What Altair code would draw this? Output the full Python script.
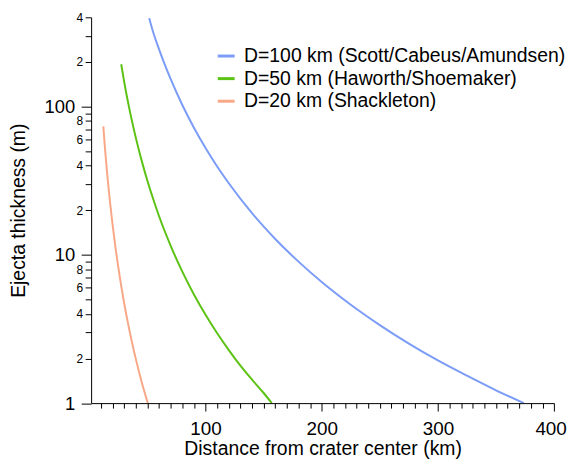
import altair as alt
import pandas as pd

series_names = [
    "D=100 km (Scott/Cabeus/Amundsen)",
    "D=50 km (Haworth/Shoemaker)",
    "D=20 km (Shackleton)",
]
colors = ["#7b9cf7", "#5cc214", "#f9a887"]

d100_x = [51.5, 55, 60, 65, 70, 80, 90, 100, 110, 120, 140, 160, 180, 200, 225, 250, 275, 300, 325, 350, 374]
d100_t = [395, 316, 243, 191, 153, 102.5, 72, 52.5, 39.4, 30.4, 19.1, 12.8, 9.0, 6.56, 4.61, 3.36, 2.52, 1.94, 1.53, 1.22, 1.0]

d50_x = [27.4, 30, 32.5, 35, 40, 45, 50, 55, 60, 70, 80, 90, 100, 110, 120, 130, 140, 150, 157]
d50_t = [193, 146, 114.7, 91.8, 61.5, 43.2, 31.5, 23.7, 18.2, 11.5, 7.7, 5.4, 3.94, 2.96, 2.28, 1.79, 1.44, 1.17, 1.0]

d20_x = [12, 13, 14, 15, 16, 18, 20, 22.5, 25, 27.5, 30, 33, 36, 40, 45, 50.3]
d20_t = [73.5, 57.8, 46.3, 37.6, 31.0, 21.8, 15.9, 11.15, 8.13, 6.11, 4.70, 3.53, 2.72, 1.98, 1.39, 1.0]

x_major = [100, 200, 300, 400]
x_minor = [v for v in range(10, 400, 10) if v % 100 != 0]
y_major = [1, 10, 100]
y_minor = [2, 3, 4, 5, 6, 7, 8, 9, 20, 30, 40, 50, 60, 70, 80, 90, 200, 300, 400]
y_minor_labeled = [2, 4, 6, 8, 20, 40, 60, 80, 200, 400]

rows = []
for name, xs, ts in zip(series_names, [d100_x, d50_x, d20_x], [d100_t, d50_t, d20_t]):
    for xv, tv in zip(xs, ts):
        rows.append({"series": name, "x": xv, "t": tv})
df = pd.DataFrame(rows)

FONT = "Liberation Sans"

xscale = alt.Scale(domain=[1.5, 400], nice=False, zero=False)
yscale = alt.Scale(type="log", domain=[1, 400], nice=False)

base = alt.Chart(df)

lines = base.mark_line(strokeWidth=2, interpolate="monotone", clip=True).encode(
    x=alt.X(
        "x:Q",
        scale=xscale,
        axis=alt.Axis(
            values=x_major, tickSize=8, labelFontSize=19, labelPadding=8.5,
            labelOffset={"condition": {"test": "datum.value == 400", "value": -3.5}, "value": 0},
            title="Distance from crater center (km)", titleFontSize=19.5,
            titleFontWeight="normal", titlePadding=1, labelFlush=False,
            labelOverlap=False, grid=False, orient="bottom", format="d",
        ),
    ),
    y=alt.Y(
        "t:Q",
        scale=yscale,
        axis=alt.Axis(
            values=y_major, tickSize=10, labelFontSize=18.5, labelPadding=6.5,
            title="Ejecta thickness (m)", titleFontSize=19.5,
            titleFontWeight="normal", titlePadding=16, labelFlush=False,
            labelOverlap=False, grid=False, orient="left", format="d",
        ),
    ),
    color=alt.Color(
        "series:N",
        scale=alt.Scale(domain=series_names, range=colors),
        legend=alt.Legend(
            title=None, orient="none", legendX=126, legendY=29,
            symbolType="stroke", symbolSize=289, symbolStrokeWidth=3,
            labelFontSize=19.5, labelOffset=8, rowPadding=2.75, padding=0,
            labelColor="black", labelFont=FONT, labelLimit=0,
        ),
    ),
)

label_expr = (
    "indexof(" + str(y_minor_labeled) + ", datum.value) >= 0 ? "
    "slice(toString(datum.value), 0, 1) : ''"
)

minor = base.mark_line(opacity=0).encode(
    x=alt.X(
        "x:Q",
        scale=xscale,
        axis=alt.Axis(
            values=x_minor, tickSize=5, labels=False, domain=False,
            title=None, grid=False, orient="bottom",
        ),
    ),
    y=alt.Y(
        "t:Q",
        scale=yscale,
        axis=alt.Axis(
            values=y_minor, tickSize=6, labelExpr=label_expr, labelFontSize=12,
            labelPadding=2.5, domain=False, title=None, grid=False,
            orient="left", labelOverlap=False, labelFlush=False,
        ),
    ),
    detail="series:N",
)

chart = (
    alt.layer(lines, minor)
    .resolve_axis(x="independent", y="independent")
    .properties(
        width=466.2,
        height=388.5,
        autosize=alt.AutoSizeParams(type="none"),
        padding={"left": 83.7, "top": 7.8, "right": 14, "bottom": 55},
        background="white",
    )
    .configure_view(stroke=None)
    .configure_axis(
        domainColor="black", tickColor="black", labelColor="black",
        titleColor="black", labelFont=FONT, titleFont=FONT,
        domainWidth=1, tickWidth=1,
    )
)

chart.save("out.html", embed_options={"renderer": "svg", "actions": False})
